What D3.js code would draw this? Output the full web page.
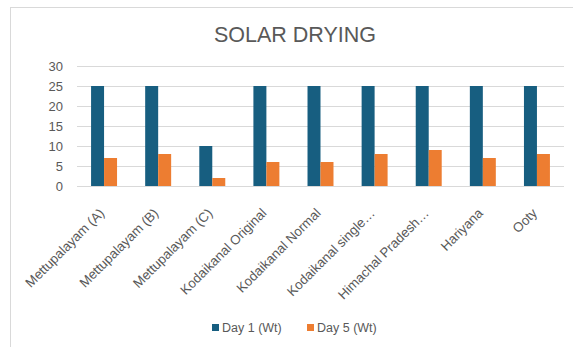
<!DOCTYPE html>
<html>
<head>
<meta charset="utf-8">
<script src="https://cdn.jsdelivr.net/npm/d3@7/dist/d3.min.js"></script>
<style>
  html, body { margin: 0; padding: 0; background: #fff; }
  svg { display: block; font-family: "Liberation Sans", Arial, sans-serif; }
</style>
</head>
<body>
<svg id="chart" width="573" height="347"></svg>
<script>
// Sample drying data: weight on day 1 and day 5
const categories = [
  "Mettupalayam (A)", "Mettupalayam (B)", "Mettupalayam (C)",
  "Kodaikanal Original", "Kodaikanal Normal", "Kodaikanal single…",
  "Himachal Pradesh…", "Hariyana", "Ooty"
];
const day1 = [25, 25, 10, 25, 25, 25, 25, 25, 25];
const day5 = [7, 8, 2, 6, 6, 8, 9, 7, 8];
const seriesNames = ["Day 1 (Wt)", "Day 5 (Wt)"];
const yTicks = [0, 5, 10, 15, 20, 25, 30];

const colors = ["#175e80", "#ed7d31"];
const textColor = "#595959";

const svg = d3.select("#chart");

// Outer chart border
svg.append("rect")
  .attr("x", 10.5).attr("y", 7.5)
  .attr("width", 580).attr("height", 360)
  .attr("fill", "none").attr("stroke", "#d9d9d9");

const plot = { left: 77, right: 564, top: 66, bottom: 186 };

const x = d3.scaleBand().domain(categories)
  .range([plot.left, plot.right]).paddingInner(0.52).paddingOuter(0.26);
const xs = d3.scaleBand().domain([0, 1]).range([0, x.bandwidth()]);
const y = d3.scaleLinear().domain([0, 30]).range([plot.bottom, plot.top]);

// Title
svg.append("text")
  .attr("x", 295).attr("y", 42)
  .attr("text-anchor", "middle")
  .attr("fill", textColor)
  .attr("font-size", 21.5)
  .text("SOLAR DRYING");

// Gridlines
svg.append("g").selectAll("line").data(yTicks).join("line")
  .attr("x1", plot.left).attr("x2", plot.right)
  .attr("y1", d => Math.round(y(d)) + 0.5).attr("y2", d => Math.round(y(d)) + 0.5)
  .attr("stroke", "#d9d9d9");

// Y axis labels
const yAxis = d3.axisLeft(y).tickValues(yTicks).tickSize(0).tickPadding(14);
const yg = svg.append("g").attr("transform", `translate(${plot.left},0)`).call(yAxis);
yg.select(".domain").remove();
yg.selectAll("text").attr("fill", textColor).attr("font-size", 13)
  .attr("font-family", "Liberation Sans, Arial, sans-serif");

// Bars
const series = [day1, day5];
const groups = svg.append("g").selectAll("g").data(series).join("g")
  .attr("fill", (d, i) => colors[i]);
groups.each(function(vals, si) {
  d3.select(this).selectAll("rect").data(vals).join("rect")
    .attr("x", (d, i) => x(categories[i]) + xs(si))
    .attr("width", xs.bandwidth())
    .attr("y", d => y(d))
    .attr("height", d => y(0) - y(d));
});

// X axis labels, rotated
const xAxis = d3.axisBottom(x).tickSize(0).tickPadding(0);
const xg = svg.append("g").attr("transform", `translate(0,${plot.bottom})`).call(xAxis);
xg.select(".domain").remove();
xg.selectAll("text")
  .attr("fill", textColor).attr("font-size", 13.3)
  .attr("font-family", "Liberation Sans, Arial, sans-serif")
  .attr("text-anchor", "end")
  .attr("dy", 0)
  .attr("transform", "translate(1,28) rotate(-45)");

// Legend
const legend = svg.append("g");
const legendX = [212, 307];
seriesNames.forEach((name, i) => {
  legend.append("rect")
    .attr("x", legendX[i]).attr("y", 324)
    .attr("width", 7).attr("height", 7)
    .attr("fill", colors[i]);
  legend.append("text")
    .attr("x", legendX[i] + 10).attr("y", 332)
    .attr("fill", textColor).attr("font-size", 12.5)
    .text(name);
});
</script>
</body>
</html>
